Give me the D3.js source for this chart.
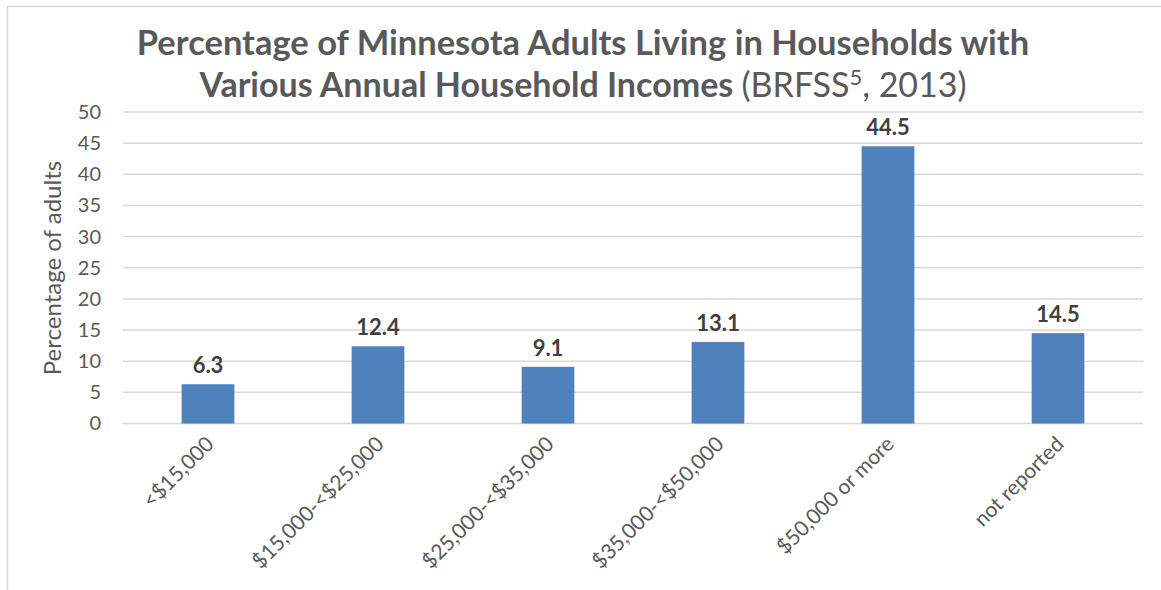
<!DOCTYPE html>
<html>
<head>
<meta charset="utf-8">
<script src="https://cdn.jsdelivr.net/npm/d3@7"></script>
<style>
  body { margin: 0; background: #fff; }
  svg { font-family: Lato, "Open Sans", sans-serif; }
</style>
</head>
<body>
<div id="chart"></div>
<script>
const categories = ["<$15,000", "$15,000-<$25,000", "$25,000-<$35,000", "$35,000-<$50,000", "$50,000 or more", "not reported"];
const values = [6.3, 12.4, 9.1, 13.1, 44.5, 14.5];
const yTicks = [0, 5, 10, 15, 20, 25, 30, 35, 40, 45, 50];

const W = 1161, H = 590;
const svg = d3.select("#chart").append("svg")
  .attr("width", W)
  .attr("height", H);

// outer frame
svg.append("path")
  .attr("d", "M7.5," + H + " V6.5 H" + W)
  .attr("fill", "none")
  .attr("stroke", "#d9d9d9")
  .attr("stroke-width", 1.5);

const x = d3.scaleBand()
  .domain(categories)
  .range([123, 1143])
  .paddingInner(0.69)
  .paddingOuter(0.345);

const y = d3.scaleLinear()
  .domain([0, 50])
  .range([423.5, 112]);

// gridlines
svg.append("g")
  .selectAll("line")
  .data(yTicks)
  .enter()
  .append("line")
  .attr("x1", 123)
  .attr("x2", 1143)
  .attr("y1", d => y(d))
  .attr("y2", d => y(d))
  .attr("stroke", "#d9d9d9")
  .attr("stroke-width", 1.5);

// y axis labels
const yAxis = svg.append("g")
  .attr("transform", "translate(101,0)")
  .call(d3.axisLeft(y).tickValues(yTicks).tickSize(0).tickPadding(0));
yAxis.select(".domain").remove();
yAxis.selectAll("text")
  .attr("font-family", "Lato, sans-serif")
  .attr("font-size", 20)
  .attr("fill", "#595959");

// bars
svg.append("g")
  .selectAll("rect")
  .data(values)
  .enter()
  .append("rect")
  .attr("x", (d, i) => x(categories[i]))
  .attr("y", d => y(d))
  .attr("width", x.bandwidth())
  .attr("height", d => y(0) - y(d))
  .attr("fill", "#4f81bd");

// value labels
svg.append("g")
  .selectAll("text")
  .data(values)
  .enter()
  .append("text")
  .attr("x", (d, i) => x(categories[i]) + x.bandwidth() / 2)
  .attr("y", d => y(d) - 11)
  .attr("text-anchor", "middle")
  .attr("font-size", 22)
  .attr("font-weight", "bold")
  .attr("fill", "#404040")
  .text(d => d.toFixed(1));

// x axis
const xAxis = svg.append("g")
  .attr("transform", "translate(0," + y(0) + ")")
  .call(d3.axisBottom(x).tickSize(0).tickPadding(0));
xAxis.select(".domain").remove();
xAxis.selectAll("text")
  .attr("font-family", "Lato, sans-serif")
  .attr("font-size", 21)
  .attr("fill", "#595959")
  .attr("text-anchor", "end")
  .attr("dy", null)
  .attr("y", 0)
  .attr("transform", "translate(7,22) rotate(-45)");

// y axis title
svg.append("text")
  .attr("transform", "translate(61,268) rotate(-90)")
  .attr("text-anchor", "middle")
  .attr("font-size", 24)
  .attr("fill", "#595959")
  .text("Percentage of adults");

// chart title
svg.append("text")
  .attr("x", 583)
  .attr("y", 55)
  .attr("text-anchor", "middle")
  .attr("font-size", 34.5)
  .attr("font-weight", "bold")
  .attr("fill", "#595959")
  .text("Percentage of Minnesota Adults Living in Households with");

const t2 = svg.append("text")
  .attr("x", 583)
  .attr("y", 97)
  .attr("text-anchor", "middle")
  .attr("font-size", 34)
  .attr("fill", "#595959");
t2.append("tspan").attr("font-weight", "bold").text("Various Annual Household Incomes ");
t2.append("tspan").text("(BRFSS");
t2.append("tspan").attr("font-size", 22).attr("dy", -12).text("5");
t2.append("tspan").attr("dy", 12).text(", 2013)");
</script>
</body>
</html>
